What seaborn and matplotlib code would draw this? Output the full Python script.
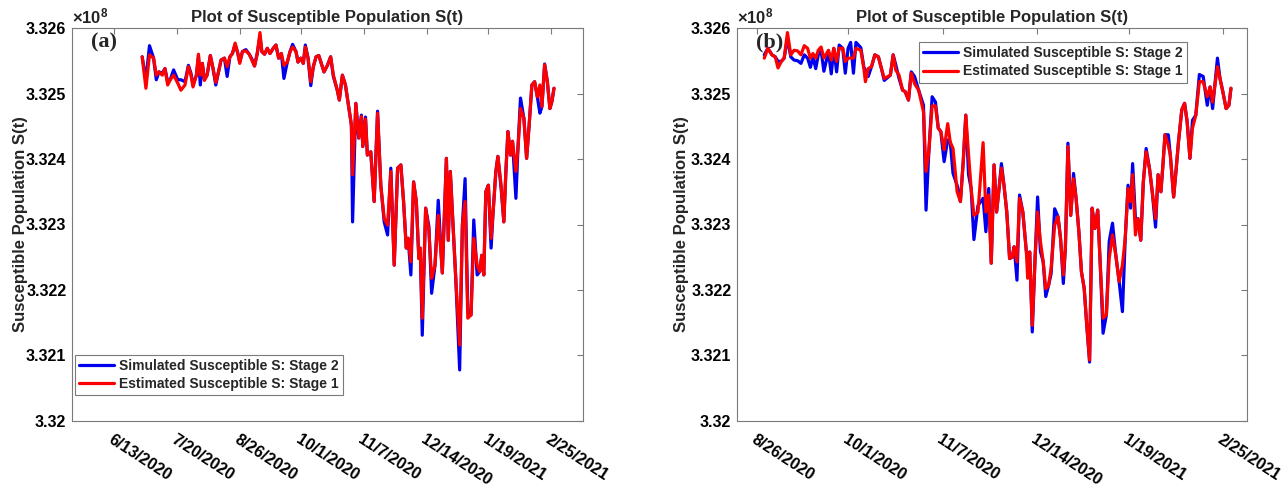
import matplotlib
matplotlib.use("Agg")
import numpy as np
import pandas as pd
import seaborn as sns
import matplotlib.pyplot as plt
import matplotlib.dates as mdates

# ---------------- data (values in units of 1e8) ----------------
a_start = "2020-06-13"
a_days = [16.5, 18.7, 20.8, 23.2, 24.8, 26.4, 28.3, 29.9, 31.5, 33.0, 35.0, 37.4, 39.3, 41.7,
          43.7, 45.2, 46.4, 48.4, 49.6, 50.7, 51.9, 53.1, 54.7, 56.6, 58.2, 59.8, 61.4, 62.9,
          64.9, 66.5, 68.1, 69.6, 71.2, 72.8, 73.9, 75.5, 77.5, 79.5, 81.0, 82.6, 84.2, 85.8,
          86.9, 88.5, 90.1, 91.7, 93.6, 95.2, 96.8, 98.4, 99.9, 101.9, 103.5, 105.0, 107.0,
          108.2, 109.8, 111.3, 112.5, 114.1, 115.7, 117.2, 118.8, 120.4, 121.9, 123.5, 125.5,
          127.4, 129.0, 131.3, 132.5, 134.3, 136.1, 138.2, 139.6, 140.3, 142.2, 143.9, 145.5,
          146.3, 147.9, 149.0, 151.0, 153.0, 155.0, 156.9, 158.9, 160.9, 162.8, 164.8, 166.8,
          168.7, 170.3, 171.9, 173.0, 174.6, 176.2, 177.8, 179.3, 180.1, 181.3, 183.3, 185.2,
          186.8, 188.8, 190.7, 193.1, 195.5, 196.6, 197.8, 199.4, 201.0, 203.3, 204.9, 206.5,
          208.1, 210.0, 211.6, 213.6, 215.1, 216.3, 217.5, 218.7, 220.2, 221.8, 223.0, 224.6,
          225.8, 227.7, 229.3, 230.5, 231.7, 233.2, 234.4, 236.4, 237.6, 239.1, 241.1, 242.7,
          244.2, 245.8, 247.4, 249.0, 250.5, 251.7, 253.3, 254.9, 256.4, 257.6, 258.8]
a_sim = [3.32556, 3.32521, 3.32573, 3.32554, 3.32521, 3.32533, 3.32531, 3.32538, 3.32518, 3.32521,
         3.32536, 3.32521, 3.32521, 3.32518, 3.32543, 3.32531, 3.32513, 3.32528, 3.32556, 3.32513,
         3.32546, 3.32522, 3.32528, 3.32558, 3.32538, 3.32513, 3.32533, 3.32551, 3.32554, 3.32526,
         3.32556, 3.32561, 3.32575, 3.32561, 3.32548, 3.32564, 3.32567, 3.32560, 3.32553, 3.32542,
         3.32561, 3.32588, 3.32564, 3.32560, 3.32569, 3.32561, 3.32569, 3.32574, 3.32554, 3.32561,
         3.32523, 3.32548, 3.32564, 3.32575, 3.32564, 3.32548, 3.32554, 3.32546, 3.32574, 3.32554,
         3.32512, 3.32541, 3.32556, 3.32558, 3.32546, 3.32533, 3.32543,
         3.32556, 3.32526, 3.32505, 3.32490, 3.32528, 3.32513, 3.32477, 3.32452, 3.32304, 3.32485,
         3.32432, 3.32467, 3.32419, 3.32464, 3.32406, 3.32411, 3.32335, 3.32473, 3.32360, 3.32304,
         3.32284, 3.32386, 3.32238, 3.32386, 3.32391, 3.32335, 3.32264, 3.32279, 3.32223, 3.32365,
         3.32335, 3.32248, 3.32264, 3.32131, 3.32325, 3.32297, 3.32195, 3.32238, 3.32337, 3.32226,
         3.32401, 3.32276, 3.32381, 3.32299, 3.32218, 3.32078, 3.32299, 3.32370, 3.32167, 3.32162,
         3.32307, 3.32223, 3.32228, 3.32253, 3.32223, 3.32350, 3.32360, 3.32264, 3.32320, 3.32381,
         3.32404, 3.32355, 3.32304, 3.32381, 3.32442, 3.32406, 3.32427, 3.32340, 3.32416, 3.32493,
         3.32462, 3.32401, 3.32452, 3.32513, 3.32518, 3.32495, 3.32470, 3.32480, 3.32545, 3.32518,
         3.32477, 3.32488, 3.32508]
a_est = [3.32556, 3.32508, 3.32559, 3.32554, 3.32528, 3.32533, 3.32528, 3.32538, 3.32513, 3.32521,
         3.32528, 3.32516, 3.32505, 3.32513, 3.32541, 3.32528, 3.32510, 3.32528, 3.32560, 3.32528,
         3.32546, 3.32520, 3.32528, 3.32558, 3.32538, 3.32517, 3.32533, 3.32551, 3.32554, 3.32541,
         3.32556, 3.32561, 3.32577, 3.32561, 3.32546, 3.32564, 3.32565, 3.32560, 3.32551, 3.32542,
         3.32561, 3.32593, 3.32564, 3.32560, 3.32569, 3.32561, 3.32569, 3.32574, 3.32554, 3.32561,
         3.32543, 3.32548, 3.32564, 3.32571, 3.32564, 3.32548, 3.32554, 3.32546, 3.32571, 3.32554,
         3.32518, 3.32541, 3.32556, 3.32558, 3.32546, 3.32533, 3.32543,
         3.32556, 3.32528, 3.32505, 3.32490, 3.32528, 3.32513, 3.32477, 3.32452, 3.32376, 3.32485,
         3.32432, 3.32465, 3.32419, 3.32461, 3.32406, 3.32411, 3.32335, 3.32470, 3.32360, 3.32309,
         3.32299, 3.32381, 3.32238, 3.32386, 3.32391, 3.32335, 3.32264, 3.32279, 3.32243, 3.32365,
         3.32335, 3.32248, 3.32264, 3.32157, 3.32325, 3.32290, 3.32218, 3.32238, 3.32314, 3.32226,
         3.32401, 3.32276, 3.32381, 3.32299, 3.32218, 3.32116, 3.32299, 3.32335, 3.32157, 3.32162,
         3.32279, 3.32238, 3.32228, 3.32253, 3.32223, 3.32350, 3.32360, 3.32279, 3.32320, 3.32381,
         3.32404, 3.32360, 3.32304, 3.32381, 3.32442, 3.32406, 3.32427, 3.32381, 3.32416, 3.32477,
         3.32462, 3.32401, 3.32452, 3.32513, 3.32518, 3.32495, 3.32513, 3.32480, 3.32544, 3.32518,
         3.32477, 3.32488, 3.32508]

b_start = "2020-08-26"
b_days = [3.0, 4.4, 6.0, 7.3, 8.4, 9.7, 10.8, 12.1, 13.4, 14.7, 16.1, 17.4, 18.7, 20.0, 21.1, 22.1,
          23.2, 24.2, 25.3, 26.4, 28.2, 29.3, 30.3, 31.4, 32.4, 33.8, 34.8, 35.9, 36.9, 38.0, 39.0,
          40.9, 42.1, 42.7, 43.8, 45.1, 46.4, 47.8, 48.8, 50.1, 52.5, 53.6, 54.6, 55.9, 57.3, 58.3,
          59.6, 60.7, 62.0, 63.6, 65.5, 66.5, 67.6, 68.9, 70.2, 71.3, 72.3, 73.6, 75.0, 76.0, 77.1,
          78.7, 80.0, 81.1, 82.1, 83.2, 84.2, 85.3, 86.9, 88.9, 90.0, 91.1, 92.1, 93.2, 94.2, 95.3,
          96.1, 97.1, 98.2, 99.3, 100.3, 101.1, 102.2, 103.2, 104.5, 105.9, 106.4, 107.2, 108.2,
          109.3, 110.3, 111.4, 112.5, 113.5, 114.6, 115.6, 117.0, 118.3, 119.3, 120.4, 121.2, 122.2,
          123.3, 124.4, 125.4, 126.5, 127.5, 128.6, 129.6, 130.7, 131.7, 132.8, 133.9, 134.9, 136.0,
          137.3, 138.4, 139.7, 141.0, 142.3, 143.6, 144.7, 145.8, 146.8, 147.6, 148.7, 149.7, 150.8,
          151.8, 152.9, 154.2, 155.3, 156.6, 157.6, 158.7, 159.5, 160.3, 161.6, 162.4, 163.7, 164.5,
          165.6, 166.9, 168.0, 169.0, 170.1, 171.1, 172.4, 173.8, 175.3, 176.9, 178.0, 179.0, 180.9,
          181.9, 183.0, 184.3, 185.4, 186.2]
b_sim = [3.32559, 3.32569, 3.32559, 3.32556, 3.32549, 3.32549, 3.32554, 3.32584, 3.32556, 3.32551,
         3.32550, 3.32546, 3.32559, 3.32554, 3.32540, 3.32556, 3.32538, 3.32559, 3.32566, 3.32534,
         3.32564, 3.32530, 3.32569, 3.32533, 3.32574, 3.32569, 3.32531, 3.32569, 3.32578, 3.32531,
         3.32578, 3.32570, 3.32540, 3.32536, 3.32526, 3.32541, 3.32559, 3.32556, 3.32541, 3.32520,
         3.32528, 3.32559, 3.32544, 3.32523, 3.32505, 3.32503, 3.32490, 3.32533, 3.32526, 3.32505,
         3.32482, 3.32322, 3.32411, 3.32495, 3.32487, 3.32447, 3.32442, 3.32396, 3.32429, 3.32426,
         3.32378, 3.32360, 3.32335, 3.32396, 3.32467, 3.32376, 3.32355, 3.32277, 3.32329, 3.32340,
         3.32289, 3.32355, 3.32241, 3.32391, 3.32319, 3.32360, 3.32393, 3.32360, 3.32319, 3.32248,
         3.32250, 3.32266, 3.32215, 3.32345, 3.32319, 3.32258, 3.32254, 3.32258, 3.32136, 3.32248,
         3.32342, 3.32259, 3.32243, 3.32190, 3.32207, 3.32225, 3.32324, 3.32312, 3.32279, 3.32210,
         3.32264, 3.32424, 3.32314, 3.32378, 3.32340, 3.32289, 3.32228, 3.32202, 3.32146, 3.32090,
         3.32325, 3.32294, 3.32322, 3.32238, 3.32134, 3.32162, 3.32274, 3.32302, 3.32253, 3.32213,
         3.32167, 3.32279, 3.32360, 3.32325, 3.32393, 3.32309, 3.32309, 3.32276, 3.32365, 3.32416,
         3.32386, 3.32350, 3.32296, 3.32376, 3.32350, 3.32391, 3.32437, 3.32437, 3.32406, 3.32342,
         3.32376, 3.32426, 3.32475, 3.32485, 3.32457, 3.32401, 3.32459, 3.32467, 3.32529, 3.32526,
         3.32482, 3.32510, 3.32477, 3.32554, 3.32523, 3.32503, 3.32477, 3.32482, 3.32508]
b_est = [3.32554, 3.32569, 3.32559, 3.32556, 3.32539, 3.32549, 3.32554, 3.32593, 3.32559, 3.32566,
         3.32565, 3.32559, 3.32573, 3.32569, 3.32554, 3.32561, 3.32554, 3.32566, 3.32571, 3.32554,
         3.32566, 3.32551, 3.32569, 3.32549, 3.32569, 3.32569, 3.32549, 3.32554, 3.32554, 3.32554,
         3.32569, 3.32566, 3.32538, 3.32518, 3.32538, 3.32541, 3.32559, 3.32556, 3.32541, 3.32523,
         3.32528, 3.32559, 3.32536, 3.32528, 3.32505, 3.32503, 3.32490, 3.32531, 3.32515, 3.32505,
         3.32472, 3.32381, 3.32411, 3.32481, 3.32481, 3.32447, 3.32442, 3.32414, 3.32454, 3.32426,
         3.32416, 3.32350, 3.32335, 3.32396, 3.32467, 3.32406, 3.32355, 3.32314, 3.32319, 3.32425,
         3.32319, 3.32345, 3.32241, 3.32391, 3.32319, 3.32360, 3.32386, 3.32360, 3.32319, 3.32248,
         3.32250, 3.32266, 3.32243, 3.32340, 3.32319, 3.32258, 3.32218, 3.32258, 3.32146, 3.32248,
         3.32319, 3.32274, 3.32243, 3.32202, 3.32207, 3.32233, 3.32299, 3.32312, 3.32279, 3.32223,
         3.32264, 3.32419, 3.32314, 3.32370, 3.32340, 3.32289, 3.32228, 3.32202, 3.32146, 3.32093,
         3.32325, 3.32294, 3.32322, 3.32238, 3.32157, 3.32162, 3.32248, 3.32284, 3.32253, 3.32213,
         3.32238, 3.32279, 3.32355, 3.32335, 3.32376, 3.32284, 3.32309, 3.32276, 3.32365, 3.32411,
         3.32386, 3.32350, 3.32309, 3.32376, 3.32350, 3.32391, 3.32437, 3.32421, 3.32406, 3.32342,
         3.32376, 3.32426, 3.32475, 3.32485, 3.32457, 3.32401, 3.32447, 3.32467, 3.32518, 3.32518,
         3.32495, 3.32510, 3.32487, 3.32541, 3.32523, 3.32503, 3.32477, 3.32482, 3.32508]

a_ticks = ["2020-06-13", "2020-07-20", "2020-08-26", "2020-10-01", "2020-11-07",
           "2020-12-14", "2021-01-19", "2021-02-25"]
a_ticklabels = ["6/13/2020", "7/20/2020", "8/26/2020", "10/1/2020", "11/7/2020",
                "12/14/2020", "1/19/2021", "2/25/2021"]
b_ticks = a_ticks[2:]
b_ticklabels = a_ticklabels[2:]
y_ticks = [3.320, 3.321, 3.322, 3.323, 3.324, 3.325, 3.326]

title = "Plot of Susceptible Population S(t)"
ylabel = "Susceptible Population S(t)"
lab_sim = "Simulated Susceptible S: Stage 2"
lab_est = "Estimated Susceptible S: Stage 1"

# ---------------- style ----------------
sns.set_style("white")
plt.rcParams["font.family"] = ["Liberation Sans", "DejaVu Sans"]
plt.rcParams["font.weight"] = "bold"
plt.rcParams["mathtext.fontset"] = "custom"
plt.rcParams["mathtext.rm"] = "Liberation Sans"
plt.rcParams["mathtext.it"] = "Liberation Sans:italic"
plt.rcParams["mathtext.bf"] = "Liberation Sans:bold"

GRAY = "#7a7a7a"
BLUE = "#0000ee"
RED = "#ff0000"

W, H = 1288, 488
fig = plt.figure(figsize=(W / 100, H / 100), dpi=100)


def make_df(start, days, vals):
    d = pd.Timestamp(start) + pd.to_timedelta(np.array(days), unit="D")
    return pd.DataFrame({"date": d, "S": vals})


panels = [
    dict(rect=(72, 28, 583, 421), start=a_start, days=a_days, sim=a_sim, est=a_est,
         ticks=a_ticks, labels=a_ticklabels, xlim=("2020-05-19 05:00", "2021-03-15 21:00"),
         tag="(a)", leg=dict(loc="lower left", bbox_to_anchor=(0.006, 0.066)), ylx=-0.086),
    dict(rect=(737, 28, 1247, 421), start=b_start, days=b_days, sim=b_sim, est=b_est,
         ticks=b_ticks, labels=b_ticklabels, xlim=("2020-08-18 07:00", "2021-03-06 12:00"),
         tag="(b)", leg=dict(loc="upper left", bbox_to_anchor=(0.357, 0.964)), ylx=-0.094),
]

for p in panels:
    x0, y0, x1, y1 = p["rect"]
    ax = fig.add_axes([x0 / W, 1 - y1 / H, (x1 - x0) / W, (y1 - y0) / H])
    dsim = make_df(p["start"], p["days"], p["sim"])
    dest = make_df(p["start"], p["days"], p["est"])
    sns.lineplot(data=dsim, x="date", y="S", ax=ax, color=BLUE, lw=2.3,
                 sort=False, estimator=None, label=lab_sim)
    sns.lineplot(data=dest, x="date", y="S", ax=ax, color=RED, lw=2.3,
                 sort=False, estimator=None, label=lab_est)

    ax.set_xlim(mdates.date2num(pd.Timestamp(p["xlim"][0])),
                mdates.date2num(pd.Timestamp(p["xlim"][1])))
    ax.set_ylim(3.320, 3.326)
    ax.set_yticks(y_ticks)
    ax.set_yticklabels([f"{v:g}" for v in y_ticks])
    ax.set_xticks([mdates.date2num(pd.Timestamp(t)) for t in p["ticks"]])
    ax.set_xticklabels(p["labels"], rotation=-33, ha="left", va="top",
                       rotation_mode="anchor")
    ax.tick_params(axis="both", direction="in", length=4, width=0.8, color=GRAY,
                   top=True, right=True, labelsize=11.5, labelcolor="black")
    ax.tick_params(axis="x", pad=8)
    ax.tick_params(axis="y", pad=4)
    for s in ax.spines.values():
        s.set_color(GRAY)
        s.set_linewidth(0.8)
        s.set_visible(True)

    ax.set_xlabel("")
    ax.set_ylabel(ylabel, fontsize=12, fontweight="bold")
    ax.yaxis.set_label_coords(p["ylx"], 0.5)
    ax.set_title(title, fontsize=12, fontweight="bold", pad=4)
    ax.text(0.0, 1.003, r"$\times10^{8}$", transform=ax.transAxes, ha="left",
            va="bottom", fontsize=12, fontweight="normal", color="#222222")
    ax.text(0.037, 0.988, p["tag"], transform=ax.transAxes, ha="left", va="top",
            fontsize=16, fontweight="bold", family=["Liberation Serif", "DejaVu Serif"],
            zorder=1)

    leg = ax.legend(frameon=True, fancybox=False, edgecolor=GRAY, framealpha=1,
                    fontsize=10, handlelength=2.5, handletextpad=0.35, labelspacing=0.3,
                    borderpad=0.3, borderaxespad=0, **p["leg"])
    leg.get_frame().set_linewidth(0.8)
    for line in leg.get_lines():
        line.set_linewidth(2.3)

fig.savefig("out.png", dpi=100)
